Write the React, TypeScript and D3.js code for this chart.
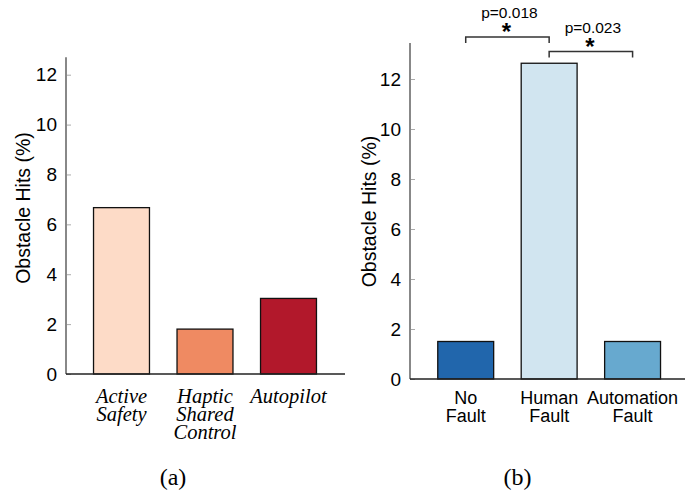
import React, { useEffect, useRef } from 'react';
import * as d3 from 'd3';

// Panel (a)
const modes = ['Active Safety', 'Haptic Shared Control', 'Autopilot'];
const modeLines = [['Active', 'Safety'], ['Haptic', 'Shared', 'Control'], ['Autopilot']];
const modeHits = [6.67, 1.8, 3.03];
const modeColors = ['#fddbc7', '#ef8a62', '#b2182b'];

// Panel (b)
const faults = ['No Fault', 'Human Fault', 'Automation Fault'];
const faultLines = [['No', 'Fault'], ['Human', 'Fault'], ['Automation', 'Fault']];
const faultHits = [1.5, 12.63, 1.5];
const faultColors = ['#2166ac', '#d1e5f0', '#67a9cf'];

const yTicks = [0, 2, 4, 6, 8, 10, 12];

// significance brackets: [from, to, label]
const brackets = [
  ['No Fault', 'Human Fault', 'p=0.018'],
  ['Human Fault', 'Automation Fault', 'p=0.023'],
];

const SANS = '"Liberation Sans", Arial, sans-serif';
const SERIF = '"Liberation Serif", "Times New Roman", serif';

function drawPanel(svg, opt) {
  const g = svg.append('g');

  const x = d3
    .scaleBand()
    .domain(opt.cats)
    .range(opt.xRange)
    .paddingInner(0.33)
    .paddingOuter(0.165);

  const y = d3
    .scaleLinear()
    .domain([0, 12])
    .range([opt.y0, opt.y12]);

  // bars
  g.selectAll('.bar')
    .data(opt.values)
    .enter()
    .append('rect')
    .attr('x', (d, i) => x(opt.cats[i]))
    .attr('y', d => y(d))
    .attr('width', x.bandwidth())
    .attr('height', d => y(0) - y(d))
    .attr('fill', (d, i) => opt.colors[i])
    .attr('stroke', '#111')
    .attr('stroke-width', 1.3);

  // y axis
  const yAxis = d3
    .axisLeft(y)
    .tickValues(yTicks)
    .tickSize(-5)
    .tickPadding(9)
    .tickFormat(d3.format('d'));

  const yAxisDraw = g
    .append('g')
    .attr('transform', `translate(${opt.axisX},0)`)
    .call(yAxis);
  yAxisDraw.select('.domain').remove();
  yAxisDraw.selectAll('line').attr('stroke', '#aaa').attr('stroke-width', 1);
  yAxisDraw
    .selectAll('text')
    .attr('font-family', SANS)
    .attr('font-size', 19)
    .attr('fill', '#000');

  g.append('line')
    .attr('x1', opt.axisX)
    .attr('x2', opt.axisX)
    .attr('y1', y(opt.yTop))
    .attr('y2', y(0))
    .attr('stroke', '#888')
    .attr('stroke-width', 2);

  // x axis line
  g.append('line')
    .attr('x1', opt.axisX)
    .attr('x2', opt.axisEnd)
    .attr('y1', y(0))
    .attr('y2', y(0))
    .attr('stroke', '#222')
    .attr('stroke-width', 1.5);

  // y title
  g.append('text')
    .attr('transform', `translate(${opt.titleX},${opt.titleY}) rotate(-90)`)
    .attr('text-anchor', 'middle')
    .attr('font-family', SANS)
    .attr('font-size', 19.5)
    .text('Obstacle Hits (%)');

  // x labels
  const labels = g
    .selectAll('.xlab')
    .data(opt.lines)
    .enter()
    .append('text')
    .attr('text-anchor', 'middle')
    .attr('font-family', opt.labelFont)
    .attr('font-style', opt.labelStyle)
    .attr('font-size', opt.labelSize)
    .attr('transform', (d, i) => `translate(${x(opt.cats[i]) + x.bandwidth() / 2},${opt.labelY})`);

  labels
    .selectAll('tspan')
    .data(d => d)
    .enter()
    .append('tspan')
    .attr('x', 0)
    .attr('y', (d, i) => i * opt.lineGap)
    .text(d => d);

  // panel caption
  g.append('text')
    .attr('x', opt.captionX)
    .attr('y', 485)
    .attr('text-anchor', 'middle')
    .attr('font-family', SERIF)
    .attr('font-size', 24)
    .text(opt.caption);

  return { x, y, g };
}

export default function App() {
  const ref = useRef(null);

  useEffect(() => {
    const svg = d3.select(ref.current);
    svg.selectAll('*').remove();

    drawPanel(svg, {
      cats: modes,
      values: modeHits,
      colors: modeColors,
      lines: modeLines,
      xRange: [79.75, 330.25],
      y0: 374,
      y12: 74.7,
      yTop: 12.7,
      axisX: 66,
      axisEnd: 345,
      titleX: 30,
      titleY: 208,
      labelFont: SERIF,
      labelStyle: 'italic',
      labelSize: 20.5,
      labelY: 403,
      lineGap: 17.8,
      captionX: 173,
      caption: '(a)',
    });

    const b = drawPanel(svg, {
      cats: faults,
      values: faultHits,
      colors: faultColors,
      lines: faultLines,
      xRange: [424, 674.3],
      y0: 379,
      y12: 79,
      yTop: 13.44,
      axisX: 410,
      axisEnd: 685,
      titleX: 376,
      titleY: 211.5,
      labelFont: SANS,
      labelStyle: 'normal',
      labelSize: 18,
      labelY: 404,
      lineGap: 17.7,
      captionX: 517.5,
      caption: '(b)',
    });

    // significance brackets
    const cx = c => b.x(c) + b.x.bandwidth() / 2;
    const levels = [37, 51.5];
    brackets.forEach(([from, to, label], i) => {
      const x1 = cx(from);
      const x2 = cx(to);
      const yy = levels[i];
      const mid = (x1 + x2) / 2;
      b.g.append('path')
        .attr('d', `M${x1},${yy + 6}V${yy}H${x2}V${yy + 6}`)
        .attr('fill', 'none')
        .attr('stroke', '#333')
        .attr('stroke-width', 1.5);
      b.g.append('text')
        .attr('x', mid + 2)
        .attr('y', yy - 18.7)
        .attr('text-anchor', 'middle')
        .attr('font-family', SANS)
        .attr('font-size', 15.5)
        .text(label);
      b.g.append('text')
        .attr('x', mid - 1)
        .attr('y', yy + 3)
        .attr('text-anchor', 'middle')
        .attr('font-family', SANS)
        .attr('font-weight', 'bold')
        .attr('font-size', 24)
        .text('*');
    });
  }, []);

  return (
    <div style={{ position: 'absolute', left: 0, top: 0 }}>
      <svg ref={ref} width={685} height={491} />
    </div>
  );
}
